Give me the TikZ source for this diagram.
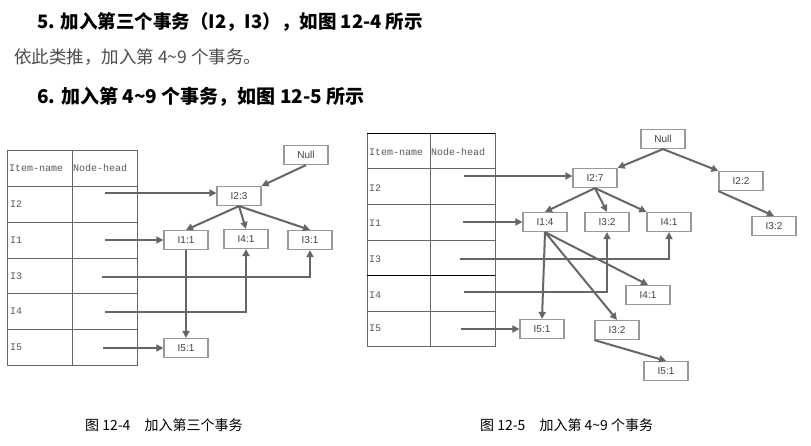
\documentclass[tikz,border=0pt]{standalone}
\usepackage{fontspec}
\setmainfont{Liberation Serif}
\setsansfont{Liberation Sans}
\setmonofont{Liberation Mono}
\newfontfamily\cjk{Noto Sans CJK SC}
\usetikzlibrary{arrows.meta}
\begin{document}
\begin{tikzpicture}[x=1pt,y=-1pt,
  nd/.style={draw=black!40,line width=1.2pt,fill=white,minimum width=44pt,minimum height=19pt,inner sep=0pt,font=\sffamily\fontsize{10}{11}\selectfont,text=black!75},
  ar/.style={draw=black!60,line width=2pt,-{Triangle[length=7pt,width=7pt]}},
  tb/.style={draw=black!60,line width=0.7pt},
  tt/.style={font=\ttfamily\fontsize{10}{11}\selectfont,text=black!65,anchor=west,inner sep=0pt}]
\useasboundingbox (0,0) rectangle (811,445);
% headings
\node[anchor=west,inner sep=0pt,font=\cjk\bfseries\fontsize{18.5}{20}\selectfont] (h1) at (37,22) {5. 加入第三个事务（I2，I3），如图 12-4 所示};
\node[anchor=west,inner sep=0pt,font=\cjk\fontsize{17.5}{19}\selectfont,text=black!70] (h2) at (14,57) {依此类推，加入第 4\textasciitilde 9 个事务。};
\node[anchor=west,inner sep=0pt,font=\cjk\bfseries\fontsize{19}{20}\selectfont] (h3) at (37,97) {6. 加入第 4\textasciitilde 9 个事务，如图 12-5 所示};
\node[anchor=west,inner sep=0pt,font=\cjk\fontsize{14}{15}\selectfont] (c1) at (85,425) {图 12-4\quad 加入第三个事务};
\node[anchor=west,inner sep=0pt,font=\cjk\fontsize{14}{15}\selectfont] (c2) at (480,425) {图 12-5\quad 加入第 4\textasciitilde 9 个事务};
% left table
\draw[tb] (7,150) rectangle (137,365);
\draw[tb] (72,150) -- (72,365);
\foreach \y in {186,222,258,293,329} \draw[tb] (7,\y) -- (137,\y);
\node[tt] (lh1) at (9,168) {Item-name};
\node[tt] (lh2) at (73,168) {Node-head};
\node[tt] (lr1) at (10,204) {I2};
\node[tt] (lr2) at (10,240) {I1};
\node[tt] (lr3) at (10,276) {I3};
\node[tt] (lr4) at (10,311) {I4};
\node[tt] (lr5) at (10,347) {I5};
\node[nd] (Ln) at (306,155) {Null};
\node[nd] (L23) at (239,196) {I2:3};
\node[nd] (L11) at (186,240) {I1:1};
\node[nd] (L41) at (246,239) {I4:1};
\node[nd] (L31) at (310,240) {I3:1};
\node[nd] (L51) at (186,348) {I5:1};
\coordinate (la) at (105,193);
\coordinate (lb) at (105,240);
\coordinate (lc) at (102,277);
\coordinate (ld) at (105,312);
\coordinate (le) at (103,348);
\draw[ar] (Ln.south) -- (L23.north east);
\draw[ar] (L23.south) -- (L11.north);
\draw[ar] (L23.south) -- (L41.north);
\draw[ar] (L23.south) -- (L31.north);
\draw[ar] (la) -- (la -| L23.west);
\draw[ar] (lb) -- (L11.west);
\draw[ar] (lc) -| (L31.south);
\draw[ar] (ld) -| (L41.south);
\draw[ar] (le) -- (L51.west);
\draw[ar] (L11.south) -- (L51.north);
% right table
\draw[tb] (367,133) rectangle (495,346);
\draw[tb] (430,133) -- (430,346);
\foreach \y in {168,204,240,275,311} \draw[tb] (367,\y) -- (495,\y);
\draw[line width=0.9pt] (367,133) -- (495,133);
\draw[line width=0.9pt] (367,275) -- (495,275);
\node[tt] (rh1) at (369,152) {Item-name};
\node[tt] (rh2) at (431,152) {Node-head};
\node[tt] (rr1) at (369,188) {I2};
\node[tt] (rr2) at (369,223) {I1};
\node[tt] (rr3) at (369,259) {I3};
\node[tt] (rr4) at (369,295) {I4};
\node[tt] (rr5) at (369,328) {I5};
\node[nd] (Rn) at (663,139) {Null};
\node[nd] (R27) at (595,178) {I2:7};
\node[nd] (R22) at (741,181) {I2:2};
\node[nd] (R14) at (545,222) {I1:4};
\node[nd] (R32) at (607,222) {I3:2};
\node[nd] (R41) at (669,222) {I4:1};
\node[nd] (R32r) at (774,226) {I3:2};
\node[nd] (R41b) at (648,295) {I4:1};
\node[nd] (R51) at (542,329) {I5:1};
\node[nd] (R32b) at (617,330) {I3:2};
\node[nd] (R51b) at (666,371) {I5:1};
\coordinate (ra) at (464,176);
\coordinate (rb) at (463,222);
\coordinate (rc) at (460,259);
\coordinate (rd) at (464,292);
\coordinate (re) at (461,329);
\draw[ar] (Rn.south) -- (R27.north east);
\draw[ar] (Rn.south) -- (R22.north west);
\draw[ar] (R27.south) -- (R14.north);
\draw[ar] (R27.south) -- (R32.north);
\draw[ar] (R27.south) -- (R41.north west);
\draw[ar] (R22.south west) -- (R32r.north);
\draw[ar] (ra) -- (ra -| R27.west);
\draw[ar] (rb) -- (R14.west);
\draw[ar] (rc) -| (R41.south);
\draw[ar] (rd) -| (R32.south);
\draw[ar] (re) -- (R51.west);
\draw[ar] (R14.south) -- (R51.north);
\draw[ar] (R14.south) -- (R41b.north);
\draw[ar] (R14.south) -- (R32b.north);
\draw[ar] (R32b.south west) -- (R51b.north);
\end{tikzpicture}
\end{document}
